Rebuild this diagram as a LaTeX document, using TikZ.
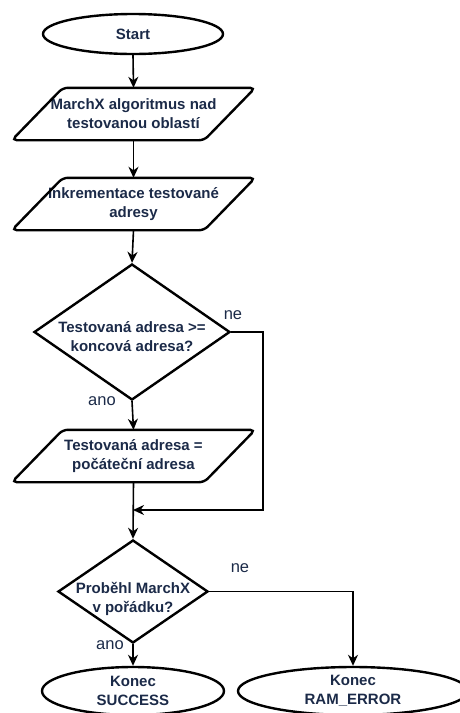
\documentclass[tikz,border=0pt]{standalone}
\usepackage{fontspec}
\setmainfont{Liberation Sans}
\usetikzlibrary{shapes.geometric,arrows.meta}
\definecolor{txt}{HTML}{1B2A48}
\tikzset{
  base/.style={text=txt, font=\bfseries\fontsize{15}{19}\selectfont, align=center, inner sep=0pt},
  term/.style={base, ellipse, draw=black, line width=2.4pt},
  iorect/.style={base, rectangle, minimum width=192pt, minimum height=52pt},
  iobox/.style={draw=black, line width=2.4pt, rounded corners=5pt},
  decision/.style={diamond, draw=black, line width=2.4pt, inner sep=0pt},
  flow/.style={draw=black, line width=1.6pt, -{Stealth[length=11pt,width=10pt,inset=3.5pt]}},
  edgelabel/.style={text=txt, font=\fontsize{16.5}{19}\selectfont, inner sep=0pt},
}
\begin{document}
\begin{tikzpicture}[x=1pt,y=-1pt]
\useasboundingbox (0,0) rectangle (460,713);
\clip (0,0) rectangle (460,713);

% terminals and steps
\node[term, minimum width=180pt, minimum height=40pt] (start) at (133,34) {Start};
\node[iorect] (p1) at (133.5,114) {MarchX algoritmus nad\\testovanou oblastí};
\node[iorect] (p2) at (133.5,204) {Inkrementace testované\\adresy};
\node[decision, minimum width=196pt, minimum height=136pt] (d1) at (132,332) {};
\node[base] (d1t) at (132,337) {Testovaná adresa >=\\koncová adresa?};
\node[iorect] (p3) at (133.5,456) {Testovaná adresa =\\počáteční adresa};
\node[decision, minimum width=150pt, minimum height=103pt] (d2) at (133,591.5) {};
\node[base] (d2t) at (133,599) {Proběhl MarchX\\v pořádku?};
\node[term, minimum width=182pt, minimum height=48pt] (ok) at (133,691) {\textbf{Konec}\\\textbf{SUCCESS}};
\node[term, minimum width=230pt, minimum height=48pt] (err) at (353,691) {\textbf{Konec}\\\textbf{RAM\_ERROR}};

% parallelogram outlines around the step nodes
\foreach \n in {p1,p2,p3}{
  \draw[iobox] ([xshift=25.5pt]\n.north west) -- ([xshift=25.5pt]\n.north east)
    -- ([xshift=-25.5pt]\n.south east) -- ([xshift=-25.5pt]\n.south west) -- cycle;
}

% routing points
\coordinate (r1) at (263,332);
\coordinate (r2) at (263,510);
\coordinate (j1) at (133,510);
\coordinate (r3) at (353,591.5);

% connectors
\draw[flow] (start.south) -- (p1.north);
\draw[flow] (p1.south) -- (p2.north);
\draw[flow] (p2.south) -- (d1.north);
\draw[flow] (d1.south) -- (p3.north);
\draw[flow] (d1.east) -- (r1) -- (r2) -- (j1);
\draw[flow] (p3.south) -- (d2.north);
\draw[flow] (d2.south) -- (ok.north);
\draw[flow] (d2.east) -- (r3) -- (err.north);

% branch labels
\node[edgelabel] (l1) at (233,315) {ne};
\node[edgelabel] (l2) at (102,401) {ano};
\node[edgelabel] (l3) at (240,568) {ne};
\node[edgelabel] (l4) at (110,645) {ano};
\end{tikzpicture}
\end{document}
